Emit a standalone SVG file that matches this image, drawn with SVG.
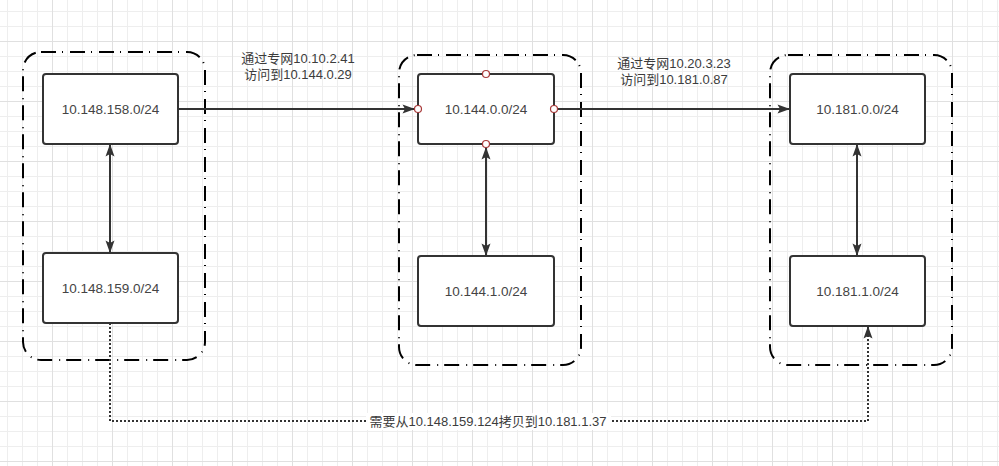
<svg xmlns="http://www.w3.org/2000/svg" width="999" height="466" viewBox="0 0 999 466">
  <style>
    .grp { fill: none; stroke: #000; stroke-width: 2; stroke-dasharray: 15 6 1 7; }
    .node rect { fill: #fff; stroke: #333; stroke-width: 2; }
    .lbl { font-family: "Liberation Sans", "Noto Sans CJK SC", sans-serif; font-size: 13px; fill: #3c3c3c; text-anchor: middle; dominant-baseline: central; }
    .node .lbl { font-size: 13.5px; fill: #444; }
    .edge { fill: none; stroke: #333; stroke-width: 2; }
    .dotted { stroke-dasharray: 2 2; }
    .cp { fill: #fff; stroke: #a83a3a; stroke-width: 1.2; }
  </style>
  <defs>
    <pattern id="grid" patternUnits="userSpaceOnUse" x="-8" y="-19" width="60" height="60">
      <rect x="15" y="0" width="1" height="60" fill="#eeeeee"/>
      <rect x="30" y="0" width="1" height="60" fill="#eeeeee"/>
      <rect x="45" y="0" width="1" height="60" fill="#eeeeee"/>
      <rect x="0" y="15" width="60" height="1" fill="#eeeeee"/>
      <rect x="0" y="30" width="60" height="1" fill="#eeeeee"/>
      <rect x="0" y="45" width="60" height="1" fill="#eeeeee"/>
      <rect x="0" y="0" width="1" height="60" fill="#e0e0e0"/>
      <rect x="0" y="0" width="60" height="1" fill="#e0e0e0"/>
    </pattern>
    <marker id="arr" viewBox="-13 -5 14 10" refX="0" refY="0" markerWidth="14" markerHeight="10" markerUnits="userSpaceOnUse" orient="auto-start-reverse">
      <path d="M0,0 L-12.5,-4.5 L-10,0 L-12.5,4.5 Z" fill="#333"/>
    </marker>
  </defs>
  <rect width="999" height="466" fill="#fff"/>
  <rect width="999" height="466" fill="url(#grid)"/>

  <g id="groups">
    <rect id="group-left" class="grp" x="23" y="52" width="182" height="308" rx="18"/>
    <rect id="group-mid" class="grp" x="399" y="55" width="182" height="310" rx="18"/>
    <rect id="group-right" class="grp" x="770" y="55" width="182" height="310" rx="18"/>
  </g>

  <g id="connectors">
    <path class="edge" d="M178,109 H415" marker-end="url(#arr)"/>
    <path class="edge" d="M554,109 H790" marker-end="url(#arr)"/>
    <path class="edge" d="M110,144 V253" marker-start="url(#arr)" marker-end="url(#arr)"/>
    <path class="edge" d="M486,147 V256" marker-start="url(#arr)" marker-end="url(#arr)"/>
    <path class="edge" d="M857,144 V256" marker-start="url(#arr)" marker-end="url(#arr)"/>
    <path class="edge dotted" d="M110,323 V421 H868 V326" marker-end="url(#arr)"/>
    <text class="lbl" x="298" y="58">通过专网10.10.2.41</text>
    <text class="lbl" x="298" y="74">访问到10.144.0.29</text>
    <text class="lbl" x="674" y="63">通过专网10.20.3.23</text>
    <text class="lbl" x="674" y="79">访问到10.181.0.87</text>
    <rect x="366" y="413" width="245" height="17" fill="#fff"/>
    <text class="lbl" x="488" y="421">需要从10.148.159.124拷贝到10.181.1.37</text>
  </g>

  <g id="node-a" class="node">
    <rect x="43" y="74" width="135" height="70" rx="3"/>
    <text class="lbl" x="110.5" y="109">10.148.158.0/24</text>
  </g>
  <g id="node-b" class="node">
    <rect x="43" y="253" width="135" height="70" rx="3"/>
    <text class="lbl" x="110.5" y="288">10.148.159.0/24</text>
  </g>
  <g id="node-c" class="node">
    <rect x="418" y="74" width="136" height="70" rx="3"/>
    <text class="lbl" x="486" y="109">10.144.0.0/24</text>
    <circle class="cp" cx="486" cy="74" r="3.5"/>
    <circle class="cp" cx="486" cy="144" r="3.5"/>
    <circle class="cp" cx="418" cy="109" r="3.5"/>
    <circle class="cp" cx="554" cy="109" r="3.5"/>
  </g>
  <g id="node-d" class="node">
    <rect x="418" y="256" width="136" height="70" rx="3"/>
    <text class="lbl" x="486" y="291">10.144.1.0/24</text>
  </g>
  <g id="node-e" class="node">
    <rect x="790" y="74" width="135" height="70" rx="3"/>
    <text class="lbl" x="857.5" y="109">10.181.0.0/24</text>
  </g>
  <g id="node-f" class="node">
    <rect x="790" y="256" width="135" height="70" rx="3"/>
    <text class="lbl" x="857.5" y="291">10.181.1.0/24</text>
  </g>
</svg>
